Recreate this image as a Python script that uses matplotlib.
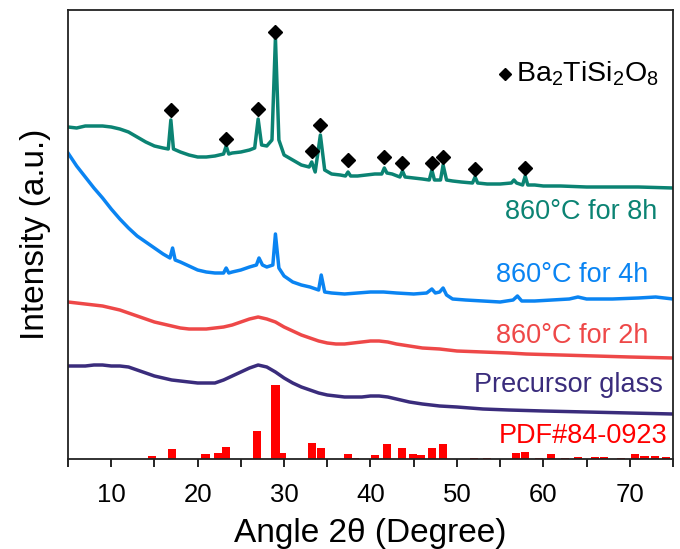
import matplotlib
matplotlib.use("Agg")
import matplotlib.pyplot as plt
from matplotlib.ticker import MultipleLocator

plt.rcParams['font.family'] = ['Liberation Sans', 'DejaVu Sans']
plt.rcParams['mathtext.fontset'] = 'custom'
plt.rcParams['mathtext.rm'] = 'Liberation Sans'
plt.rcParams['mathtext.it'] = 'Liberation Sans:italic'
plt.rcParams['mathtext.bf'] = 'Liberation Sans:bold'

# ---------------- data (2theta in degrees, intensity in arbitrary stacked units) -------------
teal_x = [5.0, 6.0, 7.0, 8.0, 9.0, 10.0, 11.0, 12.0, 13.0, 14.0, 15.0, 16.0, 16.6, 16.9, 17.2,
          18.0, 19.0, 20.0, 21.0, 22.0, 23.0, 23.3, 23.6, 24.0, 25.0, 26.0, 26.6, 27.0, 27.4,
          28.0, 28.6, 29.0, 29.4, 30.0, 31.0, 32.0, 32.9, 33.2, 33.6, 34.2, 34.7, 35.5, 36.5,
          37.1, 37.4, 37.7, 38.5, 39.5, 40.5, 41.3, 41.6, 41.9, 42.5, 43.4, 43.7, 44.0, 45.0,
          46.0, 46.8, 47.1, 47.4, 48.1, 48.4, 48.8, 49.5, 50.5, 51.8, 52.1, 52.4, 53.5, 55.0,
          56.3, 56.6, 56.9, 57.6, 57.9, 58.2, 59.0, 60.0, 62.0, 65.0, 68.0, 71.0, 75.0]
teal_y = [332, 331, 333, 333, 333, 332, 330, 327, 322, 317, 313, 311, 310, 339, 310,
          307, 304, 302, 302, 303, 305, 313, 305, 306, 307, 309, 311, 340, 314,
          313, 319, 421, 319, 304, 299, 294, 292, 297, 287, 324, 289, 285, 284,
          283, 287, 283, 283, 284, 285, 285, 291, 286, 285, 282, 288, 282, 281,
          280, 279, 289, 279, 279, 294, 279, 278, 277, 276, 282, 276, 275, 275,
          276, 279, 276, 274, 283, 274, 274, 273, 273, 272, 272, 272, 271]

blue_x = [5.0, 6.0, 7.0, 8.0, 9.0, 10.0, 11.0, 12.0, 13.0, 14.0, 15.0, 16.0, 16.8, 17.1, 17.4,
          18.0, 19.0, 20.0, 21.0, 22.0, 23.0, 23.3, 23.6, 24.0, 25.0, 26.0, 26.8, 27.1, 27.5,
          28.0, 28.7, 29.0, 29.4, 30.0, 31.0, 32.0, 33.0, 34.0, 34.3, 34.7, 35.5, 37.0, 38.5,
          40.0, 41.5, 43.0, 45.0, 46.5, 47.1, 47.5, 48.0, 48.4, 48.8, 49.5, 51.0, 53.0, 55.0,
          56.5, 57.0, 57.5, 59.0, 61.0, 63.0, 64.0, 65.0, 68.0, 71.0, 73.0, 75.0]
blue_y = [306, 293, 282, 271, 261, 250, 240, 231, 223, 217, 211, 205, 201, 211, 199,
          197, 193, 189, 187, 186, 186, 191, 186, 187, 189, 192, 194, 201, 194,
          192, 194, 225, 191, 183, 177, 174, 172, 169, 184, 167, 166, 165, 166,
          167, 167, 166, 165, 166, 170, 166, 167, 171, 164, 160, 159, 158, 157,
          159, 163, 158, 158, 159, 160, 162, 160, 160, 161, 162, 160]

red_x = [5.0, 7.0, 9.0, 10.0, 11.0, 12.0, 13.0, 14.0, 15.0, 16.0, 17.0, 18.0, 19.0, 20.0,
         21.0, 22.0, 23.0, 24.0, 25.0, 26.0, 27.0, 28.0, 29.0, 30.0, 31.0, 32.0, 33.0, 34.0,
         35.0, 36.0, 37.0, 38.0, 39.0, 40.0, 41.0, 42.0, 43.0, 44.5, 46.0, 48.0, 50.0, 53.0,
         56.0, 58.0, 62.0, 66.0, 70.0, 75.0]
red_y = [157, 155, 153, 151, 149, 146, 143, 140, 137, 135, 133, 131, 130, 130,
         130, 131, 132, 134, 137, 140, 142, 140, 137, 132, 128, 124, 121, 118,
         116, 115, 115, 116, 117, 118, 118, 117, 115, 113, 111, 110, 108, 107,
         106, 105, 104, 103, 102, 101]

purple_x = [5.0, 6.0, 7.0, 8.0, 9.0, 10.0, 11.0, 12.0, 13.0, 14.0, 15.0, 16.0, 17.0, 18.0,
            19.0, 20.0, 21.0, 22.0, 23.0, 24.0, 25.0, 26.0, 27.0, 28.0, 29.0, 30.0, 31.0,
            32.0, 33.0, 34.0, 35.0, 36.0, 37.0, 38.0, 39.0, 40.0, 41.0, 42.0, 43.0, 44.5,
            46.0, 48.0, 50.0, 53.0, 56.0, 60.0, 65.0, 70.0, 75.0]
purple_y = [93, 93, 93, 94, 94, 93, 93, 92, 89, 86, 83, 81, 79, 78,
            77, 76, 76, 76, 79, 83, 87, 91, 94, 92, 87, 81, 76,
            72, 69, 66, 64, 63, 62, 62, 62, 63, 63, 62, 60, 57,
            55, 53, 52, 50, 49, 48, 47, 46, 45]

pdf_pos = [14.7, 17.0, 20.9, 22.4, 23.3, 26.9, 29.0, 29.8, 33.2, 34.3, 37.4, 38.2, 40.5, 41.9,
           43.6, 44.9, 45.8, 47.1, 48.4, 52.0, 53.5, 56.8, 57.9, 59.5, 60.9, 62.5, 64.0, 66.0,
           67.0, 69.0, 70.6, 71.7, 72.9, 74.2]
pdf_int = [3, 10, 5, 6, 12, 28, 74, 6, 16, 11, 5, 1, 4, 15,
           11, 5, 4, 11, 15, 1, 1, 6, 7, 1, 5, 1.5, 2, 2,
           2, 1.5, 5, 3, 3, 2]

mark_x = [16.9, 23.3, 27.0, 29.0, 33.2, 34.2, 37.4, 41.6, 43.7, 47.1, 48.4, 52.1, 57.9]
mark_y = [349, 320, 350, 427, 308, 334, 299, 302, 296, 296, 302, 290, 291]

labels = ['860°C for 8h', '860°C for 4h', '860°C for 2h', 'Precursor glass', 'PDF#84-0923']

# ---------------- styling -------------
c_teal = '#0B8373'
c_blue = '#0A84F2'
c_red = '#EE4848'
c_purple = '#3A2C7C'
c_bar = '#FF0000'

fig = plt.figure(figsize=(6.8, 5.49), dpi=100)
ax = fig.add_axes([68/680, (549-459)/549, 605/680, 449/549])

lw = 2.5
ax.plot(teal_x, teal_y, color=c_teal, lw=lw)
ax.plot(blue_x, blue_y, color=c_blue, lw=lw)
ax.plot(red_x, red_y, color=c_red, lw=lw)
ax.plot(purple_x, purple_y, color=c_purple, lw=lw)
ax.bar(pdf_pos, pdf_int, width=0.95, color=c_bar, edgecolor='none')
ax.plot(mark_x, mark_y, linestyle='none', marker='D', ms=7, color='black')

# legend-like annotation
ax.plot([55.6], [385], marker='D', ms=6.5, color='black', linestyle='none')
ax.text(56.8, 377, r'Ba$_2$TiSi$_2$O$_8$', fontsize=20.5, ha='left', va='baseline')

lab_x = [64.4, 63.3, 63.3, 62.9, 64.6]
lab_y = [240, 177, 116, 67, 16]
lab_c = [c_teal, c_blue, c_red, c_purple, c_bar]
for t, x, y, c in zip(labels, lab_x, lab_y, lab_c):
    ax.text(x, y, t, color=c, fontsize=19.5, ha='center', va='baseline')

ax.set_xlim(5, 75)
ax.set_ylim(0, 449)
ax.xaxis.set_major_locator(MultipleLocator(10))
ax.xaxis.set_minor_locator(MultipleLocator(5))
ax.set_yticks([])
ax.tick_params(axis='x', which='major', direction='out', length=6, width=1.2, labelsize=18.5, pad=11)
ax.tick_params(axis='x', which='minor', direction='out', length=6, width=1.2)
for s in ax.spines.values():
    s.set_linewidth(1.3)
    s.set_color('#222222')

ax.set_xlabel('Angle 2θ (Degree)', fontsize=24, labelpad=8)
ax.set_ylabel('Intensity (a.u.)', fontsize=24, labelpad=12)

fig.savefig('out.png', dpi=100)
